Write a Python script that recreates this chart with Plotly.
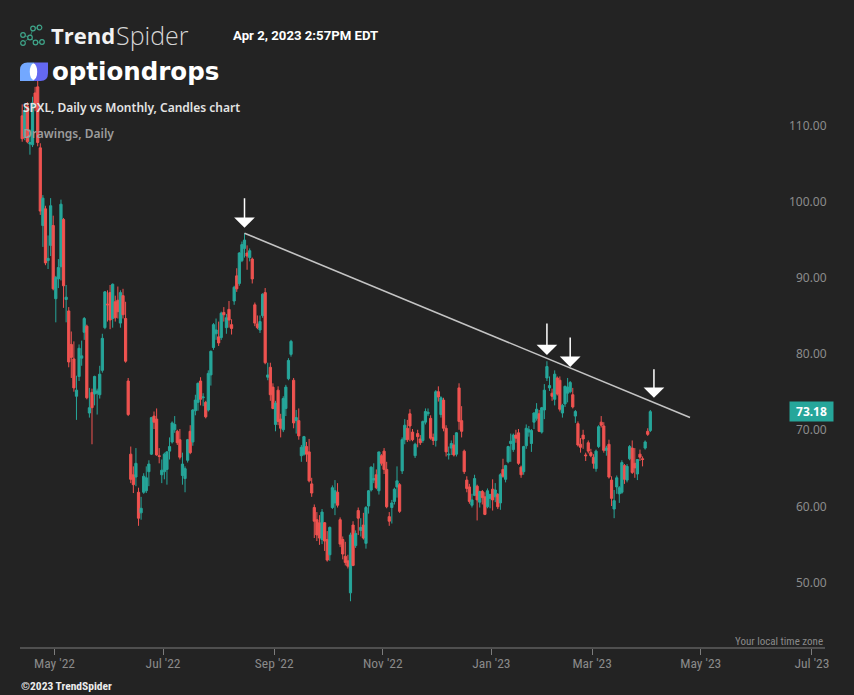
import pandas as pd
import plotly.graph_objects as go

# ---------------- data ----------------
HOLIDAYS = ["2022-04-15", "2022-05-30", "2022-06-20", "2022-07-04", "2022-09-05",
            "2022-11-24", "2022-12-26", "2023-01-02", "2023-01-16", "2023-02-20",
            "2023-04-07", "2023-05-29", "2023-06-19", "2023-07-04"]
FIRST_DAY, LAST_DAY = "2022-04-12", "2023-03-31"

OPEN = [
    # Apr 2022
    112.0, 109.3, 113.3, 108.3, 108.2, 115.0, 115.8, 107.8, 97.6, 99.8, 93.0, 95.0, 97.6,
    # May
    88.0, 90.6, 92.2, 98.4, 87.9, 86.4, 82.0, 80.1, 75.2, 77.8, 80.2, 83.6, 84.4, 73.0, 75.7,
    75.5, 75.6, 75.4, 78.6, 84.2, 87.3,
    # Jun
    88.8, 85.4, 87.6, 87.8, 84.8, 88.4, 85.4, 77.2, 67.6, 64.9, 64.6, 62.6, 59.9, 62.6, 62.8,
    65.3, 67.6, 72.6, 72.2, 67.4, 64.9,
    # Jul
    65.3, 65.6, 68.0, 69.2, 70.8, 70.6, 69.5, 64.8, 64.4, 66.8, 70.6, 69.2, 73.3, 74.4, 77.2,
    75.0, 74.4, 73.4, 78.0, 81.6,
    # Aug
    83.4, 83.0, 82.9, 86.2, 84.2, 86.6, 84.6, 87.7, 91.0, 90.0, 93.0, 94.6, 94.0, 93.4, 93.2,
    87.2, 84.7, 83.9, 85.8, 88.8, 77.7, 79.0, 76.4,
    # Sep
    71.5, 76.0, 72.2, 70.8, 73.6, 77.5, 80.7, 77.3, 72.0, 72.0, 67.4, 67.6, 68.6, 67.9, 63.7,
    60.6, 59.0, 58.6, 56.4, 58.6, 56.4,
    # Oct
    54.4, 60.6, 61.2, 62.6, 59.0, 56.4, 54.2, 53.6, 49.4, 58.3, 55.6, 60.2, 57.6, 58.3, 55.9,
    60.8, 62.9, 64.2, 64.9, 62.8, 67.4,
    # Nov
    68.0, 65.6, 59.4, 60.6, 61.4, 63.3, 63.6, 65.4, 69.5, 71.0, 72.9, 70.5, 67.4, 70.3, 69.6,
    69.4, 71.8, 72.9, 72.3, 69.8, 69.4,
    # Dec
    75.8, 72.8, 74.7, 71.0, 67.5, 68.4, 68.8, 67.6, 76.3, 72.0, 68.0, 64.2, 63.3, 60.9, 62.2,
    63.4, 61.3, 62.7, 62.0, 60.7, 61.8,
    # Jan 2023
    63.0, 62.0, 62.3, 61.2, 65.6, 64.3, 66.6, 69.0, 68.2, 70.1, 70.4, 65.9, 65.3, 68.7, 70.5,
    69.0, 71.8, 72.3, 72.9, 70.5,
    # Feb
    73.4, 77.6, 76.3, 75.6, 74.8, 77.6, 77.3, 73.0, 74.2, 75.6, 75.8, 75.4, 72.6, 71.6, 68.9,
    70.1, 67.5, 69.1, 67.8,
    # Mar
    67.2, 65.7, 68.6, 71.8, 71.3, 68.1, 68.9, 64.2, 60.4, 63.3, 62.4, 62.6, 66.1, 64.2, 67.0,
    68.4, 66.4, 65.0, 67.6, 67.0, 68.4, 70.6, 70.7,
]
HIGH = [
    113.5, 113.2, 113.8, 110.2, 114.5, 115.8, 116.8, 108.4, 101.6, 100.2, 96.3, 101.2, 98.9,
    91.0, 93.2, 101.0, 98.6, 89.8, 86.9, 83.7, 82.4, 77.9, 82.0, 82.5, 85.6, 84.6, 76.3, 76.2,
    77.9, 76.2, 79.2, 83.4, 89.0, 89.1,
    89.8, 90.0, 88.4, 89.6, 89.1, 89.3, 87.6, 77.6, 68.6, 66.0, 68.4, 63.2, 62.0, 65.1, 66.0,
    66.8, 72.5, 73.2, 73.6, 68.4, 66.9,
    67.8, 68.0, 69.8, 71.9, 72.6, 70.8, 70.9, 67.8, 66.0, 69.6, 71.4, 73.5, 75.4, 77.0, 77.7,
    75.6, 74.6, 78.6, 81.2, 84.8,
    85.4, 85.0, 86.3, 86.9, 86.0, 87.7, 85.3, 89.7, 92.0, 94.1, 95.5, 96.6, 95.0, 94.6, 93.4,
    87.5, 85.8, 85.8, 88.7, 89.4, 79.6, 79.6, 76.9,
    74.6, 76.5, 72.9, 75.2, 76.7, 80.2, 82.6, 77.6, 73.4, 73.6, 68.8, 70.0, 69.2, 69.6, 64.5,
    61.0, 60.0, 59.6, 60.4, 58.7, 57.5,
    58.1, 63.5, 64.2, 63.8, 59.3, 56.8, 56.1, 54.4, 57.3, 58.8, 57.6, 60.6, 59.2, 59.9, 60.8,
    62.9, 66.0, 66.4, 65.6, 67.9, 67.6,
    68.4, 66.6, 60.0, 61.6, 63.2, 66.0, 63.8, 69.8, 72.2, 72.1, 73.5, 70.9, 69.1, 70.8, 70.1,
    72.0, 73.6, 73.6, 72.7, 70.3, 76.0,
    76.5, 75.2, 75.0, 71.4, 68.6, 69.4, 70.1, 70.5, 76.9, 73.9, 68.2, 64.7, 63.7, 62.4, 64.9,
    63.6, 62.8, 62.9, 62.6, 63.1, 62.4,
    64.3, 63.8, 62.5, 65.1, 67.0, 66.2, 68.7, 70.3, 70.3, 70.8, 70.9, 66.1, 68.7, 71.5, 71.3,
    70.9, 73.1, 74.3, 73.4, 73.8,
    76.8, 79.8, 77.8, 76.2, 78.6, 77.8, 77.8, 74.2, 76.6, 77.6, 77.2, 76.3, 73.4, 71.9, 69.7,
    70.8, 67.8, 69.4, 68.3,
    67.6, 68.2, 71.4, 72.6, 71.8, 68.7, 69.5, 64.7, 62.9, 64.8, 63.4, 66.8, 66.3, 66.3, 68.8,
    69.4, 68.4, 66.9, 68.2, 67.3, 69.4, 71.0, 73.4,
]
LOW = [
    108.6, 108.8, 108.4, 106.9, 107.9, 112.6, 108.0, 99.0, 94.8, 92.4, 91.9, 93.6, 89.1,
    84.9, 89.4, 90.4, 86.8, 84.9, 79.0, 77.6, 75.8, 72.1, 77.2, 79.2, 82.6, 74.8, 72.4, 68.9,
    74.0, 72.8, 74.9, 78.3, 84.0, 85.0,
    84.0, 84.2, 85.0, 85.4, 84.2, 85.4, 79.6, 72.6, 63.8, 62.5, 63.4, 58.2, 59.0, 62.4, 62.5,
    63.4, 67.5, 70.9, 67.4, 66.4, 63.8,
    64.3, 63.6, 66.9, 69.0, 70.4, 68.8, 66.9, 63.6, 62.6, 66.5, 67.6, 68.7, 72.7, 73.3, 74.0,
    73.9, 72.3, 73.2, 76.6, 81.3,
    82.6, 81.8, 82.6, 85.0, 83.4, 84.2, 83.3, 87.2, 88.9, 89.7, 92.8, 93.4, 91.8, 92.9, 90.0,
    84.4, 84.0, 83.5, 85.5, 79.4, 77.3, 74.6, 73.5,
    70.6, 71.4, 69.8, 70.5, 72.6, 77.3, 80.4, 71.0, 70.3, 69.5, 66.6, 67.4, 66.6, 63.9, 62.0,
    56.6, 56.2, 55.7, 55.8, 54.9, 53.5,
    53.6, 60.4, 59.6, 60.6, 55.4, 53.8, 53.0, 52.6, 48.3, 52.9, 55.3, 57.0, 56.8, 56.4, 55.2,
    59.8, 62.7, 63.8, 63.0, 62.3, 66.1,
    65.0, 60.5, 58.2, 58.5, 61.0, 61.9, 59.9, 65.0, 68.9, 69.2, 69.3, 69.3, 67.1, 68.5, 68.8,
    69.1, 71.5, 72.6, 69.5, 68.8, 68.6,
    74.5, 72.4, 70.6, 67.3, 66.9, 67.5, 67.3, 67.3, 70.8, 69.8, 65.0, 62.6, 61.1, 60.6, 62.1,
    58.9, 60.6, 61.0, 59.6, 60.5, 60.5,
    60.2, 61.3, 60.4, 60.3, 64.5, 63.9, 66.4, 66.6, 67.9, 69.1, 66.2, 64.5, 64.9, 68.3, 69.9,
    67.9, 70.9, 72.0, 70.5, 70.3,
    72.2, 77.2, 75.9, 74.6, 74.0, 75.3, 73.2, 72.4, 73.8, 74.4, 75.6, 73.6, 71.7, 68.6, 67.8,
    68.3, 66.7, 67.7, 67.2,
    65.7, 65.3, 68.4, 71.1, 67.8, 67.4, 64.4, 60.8, 59.2, 62.4, 61.2, 62.4, 63.7, 63.9, 66.8,
    65.0, 64.5, 64.2, 66.7, 66.0, 68.2, 70.0, 70.5,
]
CLOSE = [
    109.0, 112.7, 108.6, 108.5, 113.7, 113.6, 108.5, 99.5, 101.2, 92.7, 93.3, 100.2, 89.3,
    90.8, 92.1, 100.4, 89.7, 88.2, 79.7, 80.3, 76.3, 76.0, 81.5, 80.5, 85.4, 75.0, 73.7, 73.7,
    77.8, 75.9, 78.1, 82.8, 88.9, 87.2,
    85.2, 89.9, 85.5, 86.3, 88.8, 85.9, 79.8, 72.8, 64.3, 63.6, 66.4, 59.2, 60.5, 64.7, 64.5,
    66.3, 72.4, 71.8, 67.5, 67.3, 65.5,
    67.6, 67.9, 68.6, 71.7, 71.5, 69.1, 67.2, 66.3, 65.7, 69.5, 67.8, 73.4, 74.7, 76.9, 74.8,
    75.1, 72.5, 78.2, 81.1, 84.6,
    83.9, 82.2, 86.1, 85.9, 85.5, 85.2, 84.1, 89.5, 89.3, 94.0, 95.1, 95.7, 93.6, 94.3, 90.6,
    84.8, 84.2, 85.0, 88.6, 79.6, 78.0, 75.4, 73.6,
    74.3, 71.9, 71.0, 74.9, 76.4, 79.9, 82.4, 71.7, 72.4, 70.0, 68.5, 69.9, 67.6, 64.1, 62.5,
    58.8, 57.0, 56.6, 60.0, 56.2, 53.7,
    58.0, 63.2, 62.8, 60.9, 55.8, 54.5, 53.4, 52.9, 57.0, 53.0, 57.2, 59.2, 58.0, 56.6, 60.6,
    62.8, 65.9, 64.4, 63.2, 67.9, 66.4,
    65.6, 60.7, 58.8, 61.2, 63.0, 64.1, 60.1, 69.5, 71.4, 69.5, 71.3, 69.5, 68.9, 69.9, 69.1,
    71.9, 73.2, 73.1, 69.7, 69.4, 75.8,
    75.1, 75.0, 71.0, 67.9, 67.6, 69.0, 67.5, 70.4, 71.9, 70.6, 65.3, 63.1, 61.4, 61.6, 64.4,
    61.6, 62.7, 61.9, 59.7, 62.8, 62.3,
    61.6, 62.9, 60.7, 64.9, 64.7, 66.1, 68.6, 69.3, 70.1, 69.7, 66.4, 64.9, 68.6, 71.0, 70.8,
    70.7, 73.0, 73.5, 70.6, 73.7,
    76.0, 79.1, 76.6, 75.2, 78.1, 75.5, 73.5, 74.0, 76.5, 76.4, 77.0, 73.8, 73.2, 68.8, 68.5,
    69.6, 67.4, 68.0, 67.4,
    66.4, 68.0, 71.2, 71.4, 68.1, 68.4, 64.6, 61.8, 61.5, 64.5, 63.2, 66.5, 64.3, 66.0, 68.6,
    65.2, 65.8, 66.9, 67.2, 66.9, 69.2, 70.2, 73.18,
]
LAST_PRICE = 73.18

X_TICK_DATES = ["2022-05-02", "2022-07-01", "2022-09-01", "2022-11-01",
                "2023-01-03", "2023-03-01", "2023-05-01", "2023-07-03"]
X_TICK_TEXT = ["May '22", "Jul '22", "Sep '22", "Nov '22",
               "Jan '23", "Mar '23", "May '23", "Jul '23"]
Y_TICKS = [50, 60, 70, 80, 90, 100, 110]
Y_TICK_TEXT = ["50.00", "60.00", "70.00", "80.00", "90.00", "100.00", "110.00"]

# drawing: trend line and arrows (trading date, fraction of a session, price)
TREND_DATES = ["2022-08-16", "2023-04-24"]
TREND_FRAC = [0.0, 0.35]
TREND_Y = [96.6, 72.4]
ARROW_DATES = ["2022-08-16", "2023-02-02", "2023-02-15", "2023-04-03"]
ARROW_FRAC = [0.0, 0.0, 0.0, 0.4]
ARROW_Y = [97.3, 80.6, 79.05, 75.0]
ARROW_LEN = [31, 33, 31, 30]

# ---------------- trading-session axis (sessions equally spaced, like the source) ----------------
calendar = pd.bdate_range("2022-04-01", "2023-08-31", freq="C", holidays=HOLIDAYS)
session = {d: i for i, d in enumerate(calendar)}

def sx(date, frac=0.0):
    return session[pd.Timestamp(date)] + frac

dates = pd.bdate_range(FIRST_DAY, LAST_DAY, freq="C", holidays=HOLIDAYS)
xs = [session[d] for d in dates]
assert len(xs) == len(OPEN) == len(HIGH) == len(LOW) == len(CLOSE), (
    len(xs), len(OPEN), len(HIGH), len(LOW), len(CLOSE))

# ---------------- geometry / style ----------------
W, H = 854, 695
ML, MR, MT, MB = 20, 23, 0, 47
PW, PH = W - ML - MR, H - MT - MB

def px(x):
    return (x - ML) / PW

def py(y):
    return (H - MB - y) / PH

BG = "#232323"
TEAL = "#26a69a"
RED = "#ef5350"
UI = "Noto Sans, Open Sans, sans-serif"
NARROW = "Liberation Sans Narrow, Roboto Condensed, Liberation Sans, sans-serif"

fig = go.Figure()
fig.add_trace(go.Candlestick(
    x=xs, open=OPEN, high=HIGH, low=LOW, close=CLOSE,
    text=[d.strftime("%Y-%m-%d") for d in dates],
    increasing=dict(line=dict(color=TEAL, width=1), fillcolor=TEAL),
    decreasing=dict(line=dict(color=RED, width=1), fillcolor=RED),
    whiskerwidth=0, hoverinfo="skip", showlegend=False,
))

shapes = []
# trend line drawing
shapes.append(dict(type="line", xref="x", yref="y",
                   x0=sx(TREND_DATES[0], TREND_FRAC[0]), y0=TREND_Y[0],
                   x1=sx(TREND_DATES[1], TREND_FRAC[1]), y1=TREND_Y[1],
                   line=dict(color="#c4c4c4", width=1.6), layer="above"))
# x-axis baseline
shapes.append(dict(type="line", xref="paper", yref="paper", x0=0, x1=px(825), y0=0, y1=0,
                   line=dict(color="#7d7d7d", width=1)))

# TrendSpider icon (small network of nodes)
nodes = [(23, 35), (23, 43), (30, 37.5), (33, 28.5), (39.5, 27.5), (35.5, 42.5), (42, 42)]
edges = [(0, 2), (1, 2), (2, 3), (3, 4), (2, 5), (5, 6)]
for a, b in edges:
    (x0, y0), (x1, y1) = nodes[a], nodes[b]
    shapes.append(dict(type="line", xref="paper", yref="paper", x0=px(x0), y0=py(y0),
                       x1=px(x1), y1=py(y1), line=dict(color="#2f7f6a", width=1)))
for (cx, cy) in nodes:
    r = 2.3
    shapes.append(dict(type="circle", xref="paper", yref="paper", x0=px(cx - r), x1=px(cx + r),
                       y0=py(cy + r), y1=py(cy - r), line=dict(color="#3fa58a", width=1.2),
                       fillcolor=BG))

def path(points_cmds):
    out = []
    for cmd in points_cmds:
        if isinstance(cmd, str):
            out.append(cmd)
        else:
            out.append(f"{px(cmd[0]):.5f},{py(cmd[1]):.5f}")
    return " ".join(out)

# optiondrops icon
shapes.append(dict(type="path", xref="paper", yref="paper", line=dict(width=0), fillcolor="#73a8ff",
                   path=path(["M", (20, 81), "L", (20, 70), "Q", (20, 62.5), (27.5, 62.5),
                              "L", (34, 62.5), "L", (34, 81), "Z"])))
shapes.append(dict(type="path", xref="paper", yref="paper", line=dict(width=0), fillcolor="#6468f2",
                   path=path(["M", (34, 62.5), "L", (48, 62.5), "L", (48, 73), "Q", (48, 81),
                              (40.5, 81), "L", (34, 81), "Z"])))
shapes.append(dict(type="circle", xref="paper", yref="paper", x0=px(29.8), x1=px(37.2),
                   y0=py(80), y1=py(63.5), line=dict(width=0), fillcolor="#ffffff"))

ann = []

def label(x, y, text, size, color, family=UI, weight="normal", xanchor="left"):
    ann.append(dict(x=px(x), y=py(y), xref="paper", yref="paper", text=text, showarrow=False,
                    xanchor=xanchor, yanchor="middle",
                    font=dict(family=family, size=size, color=color, weight=weight)))

label(49, 35, "Trend", 22, "#f2f2f2", family="Open Sans, sans-serif", weight=700)
label(114, 35, "Spider", 25, "#d6d6d6", family="Open Sans, sans-serif", weight=300)
label(231, 35, "Apr 2, 2023 2:57PM EDT", 13.2, "#ffffff", family="Roboto, sans-serif", weight=700)
label(50, 71, "optiondrops", 24.5, "#ffffff", family="DejaVu Sans, sans-serif", weight=700)
label(21, 108, "SPXL, Daily vs Monthly, Candles chart", 12, "#e4e4e4", weight=600)
label(21, 133.5, "Drawings, Daily", 12, "#9c9c9c", weight=600)
label(825, 641, "Your local time zone", 11, "#8a8a8a", family=NARROW, xanchor="right")
label(19, 686, "©2023 TrendSpider", 11.5, "#ececec", family=NARROW, weight=700)

# price-scale labels (drawn inside the pane on the right, slightly above their level)
for v, t in zip(Y_TICKS, Y_TICK_TEXT):
    ann.append(dict(x=px(829), y=v, xref="paper", yref="y", text=t, showarrow=False,
                    xanchor="right", yanchor="middle", yshift=6,
                    font=dict(family=UI, size=12, color="#8c8c8c")))

# arrows
for d, fr, ay_, ln in zip(ARROW_DATES, ARROW_FRAC, ARROW_Y, ARROW_LEN):
    ann.append(dict(x=sx(d, fr), y=ay_, xref="x", yref="y", text="", showarrow=True,
                    ax=0, ay=-ln, arrowhead=1, arrowsize=2.3, arrowwidth=1.5,
                    arrowcolor="#ffffff", standoff=0))

# last price label
ann.append(dict(x=px(834), y=LAST_PRICE, xref="paper", yref="y", text="<b>73.18</b>",
                showarrow=False, xanchor="right", yanchor="middle", bgcolor=TEAL,
                width=43, height=19, borderpad=0,
                font=dict(family=UI, size=12, color="#ffffff")))

fig.update_layout(
    width=W, height=H, autosize=False,
    margin=dict(l=ML, r=MR, t=MT, b=MB, pad=0),
    paper_bgcolor=BG, plot_bgcolor=BG,
    showlegend=False, boxgap=0.15, boxgroupgap=0,
    shapes=shapes, annotations=ann,
    xaxis=dict(
        type="linear",
        range=[sx("2022-04-12", -0.85), sx("2023-07-12", 0.9)],
        rangeslider=dict(visible=False),
        tickmode="array", tickvals=[sx(d, -0.5) for d in X_TICK_DATES], ticktext=X_TICK_TEXT,
        ticks="outside", ticklen=6, tickwidth=1, tickcolor="#7d7d7d",
        ticklabelstandoff=-3, ticklabeloverflow="allow",
        tickfont=dict(family=NARROW, size=13.5, color="#8a8a8a"),
        showgrid=False, zeroline=False, showline=False, fixedrange=True,
    ),
    yaxis=dict(
        range=[42.165, 127.2], side="right", showticklabels=False, ticks="",
        showgrid=False, zeroline=False, showline=False, fixedrange=True,
    ),
)

fig.write_html("out.html", config={"displayModeBar": False},
               post_script="document.body.style.margin='0';document.body.style.padding='0';"
                           "document.body.style.background='#232323';")
